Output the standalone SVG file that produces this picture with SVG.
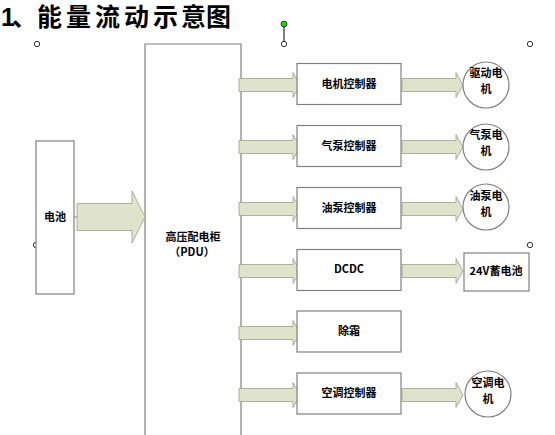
<svg xmlns="http://www.w3.org/2000/svg" width="555" height="435" viewBox="0 0 555 435">
<style>
.box{fill:#fff;stroke:#808080;stroke-width:1.2}
.arr{fill:#dfe3cb;stroke:#9aa08a;stroke-width:0.8}
.t{font-family:"Noto Sans CJK SC","Liberation Sans",sans-serif;font-size:11px;font-weight:bold;fill:#000;text-anchor:middle}
.h{fill:#fff;stroke:#000;stroke-width:0.8}
.title{font-family:"Liberation Sans","Noto Sans CJK SC",sans-serif;font-size:25px;font-weight:bold;fill:#000}
</style>
<defs>
<path id="sa" d="M0,-6.5 H54 V-12.5 L61,0 L54,12.5 V6.5 H0 Z"/>
<path id="la" d="M0,-13.5 H55 V-26 L68,0 L55,26 V13.5 H0 Z"/>
</defs>
<rect width="555" height="435" fill="#fff"/>
<text class="title" x="1 12 37 66 95 124 153 181" y="25.5">1、能量流动示意图</text>
<g id="handles">
<line x1="284" y1="24" x2="284" y2="44" stroke="#000" stroke-width="1"/>
<circle cx="284" cy="24" r="3" fill="#22cc22" stroke="#000" stroke-width="0.6"/>
<circle class="h" cx="37" cy="44" r="2.7"/>
<circle class="h" cx="284" cy="44" r="2.7"/>
<circle class="h" cx="530" cy="44" r="2.7"/>
<circle class="h" cx="36" cy="245" r="2.7"/>
<circle class="h" cx="530" cy="245" r="2.7"/>
</g>
<g id="pdu">
<path d="M145,435 V44 H241 V435" fill="#fff" stroke="#808080" stroke-width="1.2"/>
<text class="t" x="193" y="241">高压配电柜</text>
<text class="t" x="192" y="256">（PDU）</text>
</g>
<g id="battery">
<rect class="box" x="36" y="141" width="38" height="153"/>
<text class="t" x="55" y="221">电池</text>
</g>
<g id="connectors">
<line x1="74" y1="217" x2="78" y2="217" stroke="#808080"/>
<use href="#la" x="77" y="217" class="arr"/>
<use href="#sa" x="239" y="85" class="arr"/>
<use href="#sa" x="239" y="147" class="arr"/>
<use href="#sa" x="239" y="209" class="arr"/>
<use href="#sa" x="239" y="271" class="arr"/>
<use href="#sa" x="239" y="333" class="arr"/>
<use href="#sa" x="239" y="395" class="arr"/>
<use href="#sa" x="402" y="85" class="arr"/>
<use href="#sa" x="402" y="147" class="arr"/>
<use href="#sa" x="402" y="209" class="arr"/>
<use href="#sa" x="402" y="271" class="arr"/>
<use href="#sa" x="402" y="395" class="arr"/>
</g>
<g id="ctrl1"><rect class="box" x="297" y="63.5" width="104" height="41"/><text class="t" x="349" y="88">电机控制器</text></g>
<g id="ctrl2"><rect class="box" x="297" y="125.5" width="104" height="41"/><text class="t" x="349" y="150">气泵控制器</text></g>
<g id="ctrl3"><rect class="box" x="297" y="187.5" width="104" height="41"/><text class="t" x="349" y="212">油泵控制器</text></g>
<g id="dcdc"><rect class="box" x="297" y="249.5" width="104" height="41"/><text class="t" x="349" y="273">DCDC</text></g>
<g id="defrost"><rect class="box" x="297" y="311" width="104" height="41"/><text class="t" x="349" y="335">除霜</text></g>
<g id="ctrl6"><rect class="box" x="297" y="373" width="104" height="41"/><text class="t" x="349" y="397">空调控制器</text></g>
<g id="m1"><circle class="box" cx="486" cy="85" r="23"/><text class="t" x="486" y="77">驱动电</text><text class="t" x="486" y="92.5">机</text></g>
<g id="m2"><circle class="box" cx="486" cy="147" r="23"/><text class="t" x="486" y="139">气泵电</text><text class="t" x="486" y="154.5">机</text></g>
<g id="m3"><circle class="box" cx="486" cy="207" r="23"/><text class="t" x="486" y="200">油泵电</text><text class="t" x="486" y="215.5">机</text></g>
<g id="b24"><rect class="box" x="464" y="253" width="65" height="38"/><text class="t" x="496" y="275">24V蓄电池</text></g>
<g id="m6"><circle class="box" cx="488" cy="394" r="23"/><text class="t" x="488" y="387">空调电</text><text class="t" x="488" y="402.5">机</text></g>
</svg>
